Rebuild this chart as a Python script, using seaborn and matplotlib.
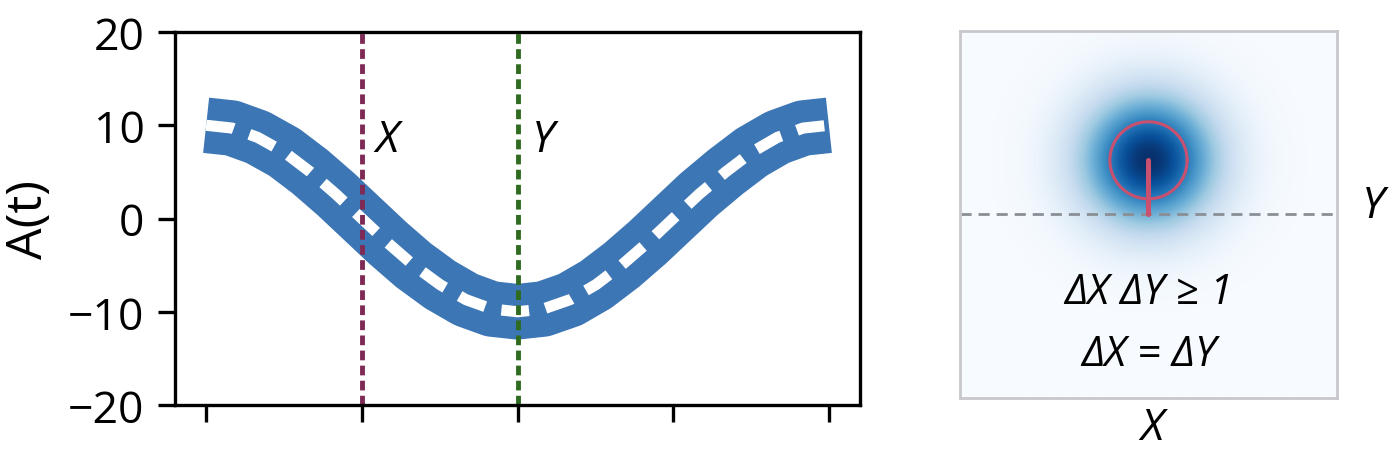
import numpy as np
import pandas as pd
import matplotlib
matplotlib.use("Agg")
import matplotlib.pyplot as plt
import seaborn as sns

sns.set_style("ticks")
plt.rcParams['font.family'] = ['Open Sans', 'DejaVu Sans']
plt.rcParams['axes.unicode_minus'] = True
plt.rcParams['text.color'] = 'black'
plt.rcParams['axes.labelcolor'] = 'black'
plt.rcParams['xtick.color'] = 'black'
plt.rcParams['ytick.color'] = 'black'

# ---- data (left panel) ----
t_vals = [0.00, 0.26, 0.52, 0.79, 1.05, 1.31, 1.57, 1.83, 2.09, 2.36, 2.62, 2.88,
          3.14, 3.40, 3.67, 3.93, 4.19, 4.45, 4.71, 4.97, 5.24, 5.50, 5.76, 6.02, 6.28]
a_vals = [10.0, 9.7, 8.7, 7.1, 5.0, 2.6, 0.0, -2.6, -5.0, -7.1, -8.7, -9.7,
          -10.0, -9.7, -8.7, -7.1, -5.0, -2.6, 0.0, 2.6, 5.0, 7.1, 8.7, 9.7, 10.0]
x_ticks = [0.0, 1.5708, 3.1416, 4.7124, 6.2832]
y_ticks = [-20, -10, 0, 10, 20]
x_mark = 1.5708
y_mark = 3.1416

# ---- data (right panel) ----
blob_center = (0.0, 0.295)
blob_sigma = 0.25
circle_radius = 0.21
ref_level = 0.0

df = pd.DataFrame({"t": t_vals, "A": a_vals})

fig = plt.figure(figsize=(14, 4.56), dpi=100)
ax = fig.add_axes([0.125, 0.1096, 0.4893, 0.818])

sns.lineplot(data=df, x="t", y="A", ax=ax, color="#3d76b5", lw=40,
             solid_capstyle="butt", solid_joinstyle="round")
sns.lineplot(data=df, x="t", y="A", ax=ax, color="white", lw=8,
             linestyle=(0, (2.5, 1.5)))
ax.axvline(x_mark, color="#7f2a55", lw=3.5, linestyle=(0, (2.0, 1.1)))
ax.axvline(y_mark, color="#2e6b1e", lw=3.5, linestyle=(0, (2.0, 1.1)))
ax.text(x_mark + 0.14, 8.5, "X", fontsize=32, style="italic", va="center", ha="left")
ax.text(y_mark + 0.14, 8.5, "Y", fontsize=32, style="italic", va="center", ha="left")

ax.set_ylim(-20, 20)
ax.set_xticks(x_ticks)
ax.set_xticklabels([])
ax.set_yticks(y_ticks)
ax.set_xlabel("")
ax.set_ylabel("A(t)", fontsize=36, labelpad=10)
ax.tick_params(axis="both", length=12, width=2.4, labelsize=32, pad=10,
               color="black", labelcolor="black")
for s in ax.spines.values():
    s.set_linewidth(2.4)
    s.set_color("black")

# ---- right panel ----
ax2 = fig.add_axes([0.6857, 0.125, 0.2693, 0.805])
gx = np.linspace(-1, 1, 400)
gy = np.linspace(-1, 1, 400)
GX, GY = np.meshgrid(gx, gy)
Z = np.exp(-((GX - blob_center[0]) ** 2 + (GY - blob_center[1]) ** 2) / (2 * blob_sigma ** 2))
ax2.imshow(Z, cmap="Blues", origin="lower", extent=[-1, 1, -1, 1], aspect="auto",
           interpolation="bicubic", vmin=0, vmax=1)
ax2.axhline(ref_level, color="#8a8f96", lw=2.0, linestyle=(0, (4, 2.5)))
th = np.linspace(0, 2 * np.pi, 200)
ax2.plot(blob_center[0] + circle_radius * np.cos(th) * 0.976,
         blob_center[1] + circle_radius * np.sin(th), color="#c9506e", lw=2.2)
ax2.plot([blob_center[0], blob_center[0]], [ref_level, blob_center[1]],
         color="#c9506e", lw=3.6)
ax2.set_xlim(-1, 1)
ax2.set_ylim(-1, 1)
ax2.set_xticks([])
ax2.set_yticks([])
for s in ax2.spines.values():
    s.set_linewidth(2.0)
    s.set_color("#c8c8cc")
ax2.text(0.0, -0.42, "ΔX ΔY ≥ 1", fontsize=30, style="italic", ha="center", va="center")
ax2.text(0.0, -0.76, "ΔX = ΔY", fontsize=30, style="italic", ha="center", va="center")
ax2.text(1.19, 0.05, "Y", fontsize=32, style="italic", ha="center", va="center")
ax2.text(0.02, -1.16, "X", fontsize=32, style="italic", ha="center", va="center")

fig.savefig("out.png", dpi=100)
